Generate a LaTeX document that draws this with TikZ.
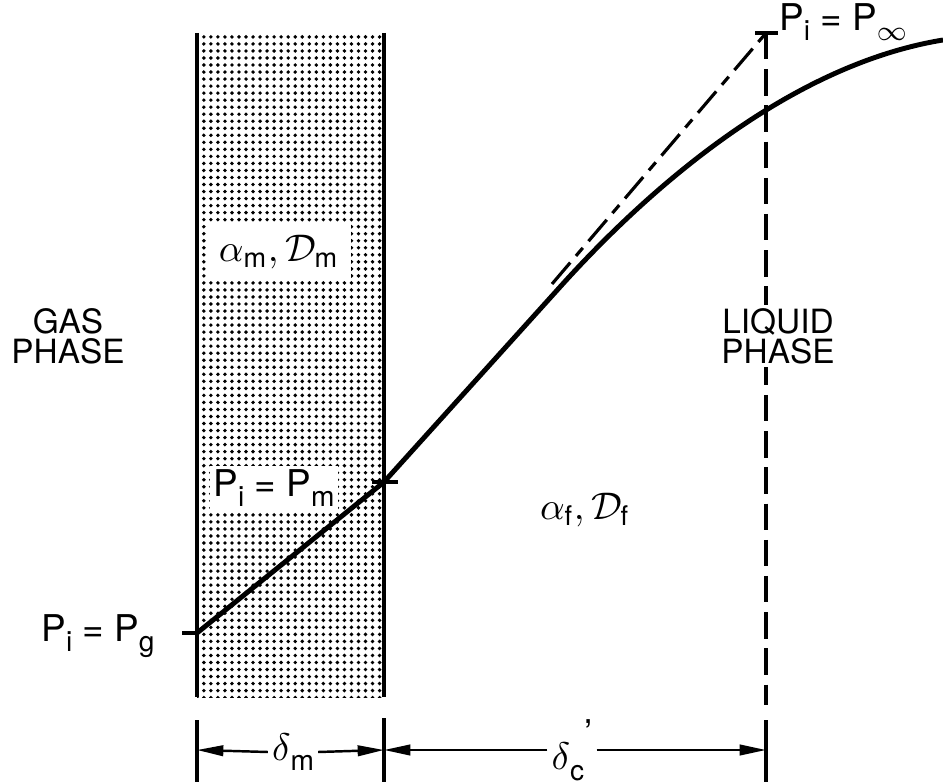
\documentclass[tikz,border=0pt]{standalone}
\usepackage{fontspec}
\setmainfont{TeX Gyre Heros}
\usetikzlibrary{arrows.meta,patterns.meta}

\newcommand\lo[1]{\raisebox{-0.55ex}{\fontsize{8}{8}\selectfont #1}}

\tikzset{
  curve/.style={line width=1.4pt},
  wall/.style={line width=0.9pt},
  tick/.style={line width=0.9pt},
  dimarrow/.style={line width=0.7pt,-{Triangle[length=7.5pt,width=3pt]}},
  phase/.style={font=\fontsize{9.5}{8.6}\selectfont,align=center,inner sep=1pt},
  plbl/.style={font=\fontsize{10.5}{11}\selectfont,inner sep=1pt},
  coef/.style={font=\fontsize{11}{11}\selectfont},
}

\begin{document}
\begin{tikzpicture}[x=0.1mm,y=-0.1mm]
\useasboundingbox (0,0) rectangle (943,782);
%
	\coordinate (wl) at (197,33);
	\coordinate (wr) at (384,33);
	\coordinate (pgp) at (197,633);
	\coordinate (pmp) at (384,482);
	\coordinate (pinfp) at (766,33);
%
	% membrane
	\fill[pattern={Dots[distance=2pt,radius=0.55pt]}] (197,33) rectangle (384,697);
	\draw[wall] (wl) -- (197,697);
	\draw[wall] (wr) -- (384,697);
	\node[coef,fill=white,minimum width=13.5mm,minimum height=5.7mm] (am) at (279,252) {$\alpha_{\mathrm{m}},\mathcal{D}_{\mathrm{m}}$};
	\node[plbl,fill=white,minimum width=11.7mm,minimum height=3.8mm] (pm) at (274,488) {P\lo{i} = P\lo{m}};
%
	% liquid boundary
	\draw[tick,dash pattern=on 7.5pt off 2.8pt] (pinfp) -- (766,705);
	\draw[tick] (755,33) -- (778,33);
	\draw[tick] (766,720) -- (766,782);
	\node[phase,fill=white] (liquid) at (778,336) {LIQUID\\PHASE};
	\node[phase] (gas) at (68,336) {GAS\\PHASE};
%
	% pressure profile
	\draw[tick] (182,633) -- (pgp);
	\draw[tick] (372,482) -- (398,482);
	\draw[curve] (pgp) -- (pmp) -- (560,287) .. controls (650,187) and (790,65) .. (943,40);
	\draw[line width=0.9pt,dash pattern=on 8pt off 2.5pt on 3pt off 2.5pt] (552,284) -- (pinfp);
%
	\node[plbl] (pg) at (98,636) {P\lo{i} = P\lo{g}};
	\node[plbl] (pinf) at (843,22) {P\lo{i} = P\lo{$\infty$}};
	\node[coef] (af) at (585,510) {$\alpha_{\mathrm{f}},\mathcal{D}_{\mathrm{f}}$};
%
	% thicknesses
	\draw[tick] (197,720) -- (197,782);
	\draw[tick] (384,718) -- (384,782);
	\node[plbl] (dm) at (293,752) {$\delta$\lo{m}};
	\node[plbl] (dc) at (572,750) {$\delta$\lo{c}\raisebox{1.2ex}{'}};
	\draw[dimarrow] (dm.west) -- (197,750);
	\draw[dimarrow] (dm.east) -- (384,750);
	\draw[dimarrow] (dc.west) -- (384,750);
	\draw[dimarrow] (dc.east) -- (766,750);
\end{tikzpicture}
\end{document}
